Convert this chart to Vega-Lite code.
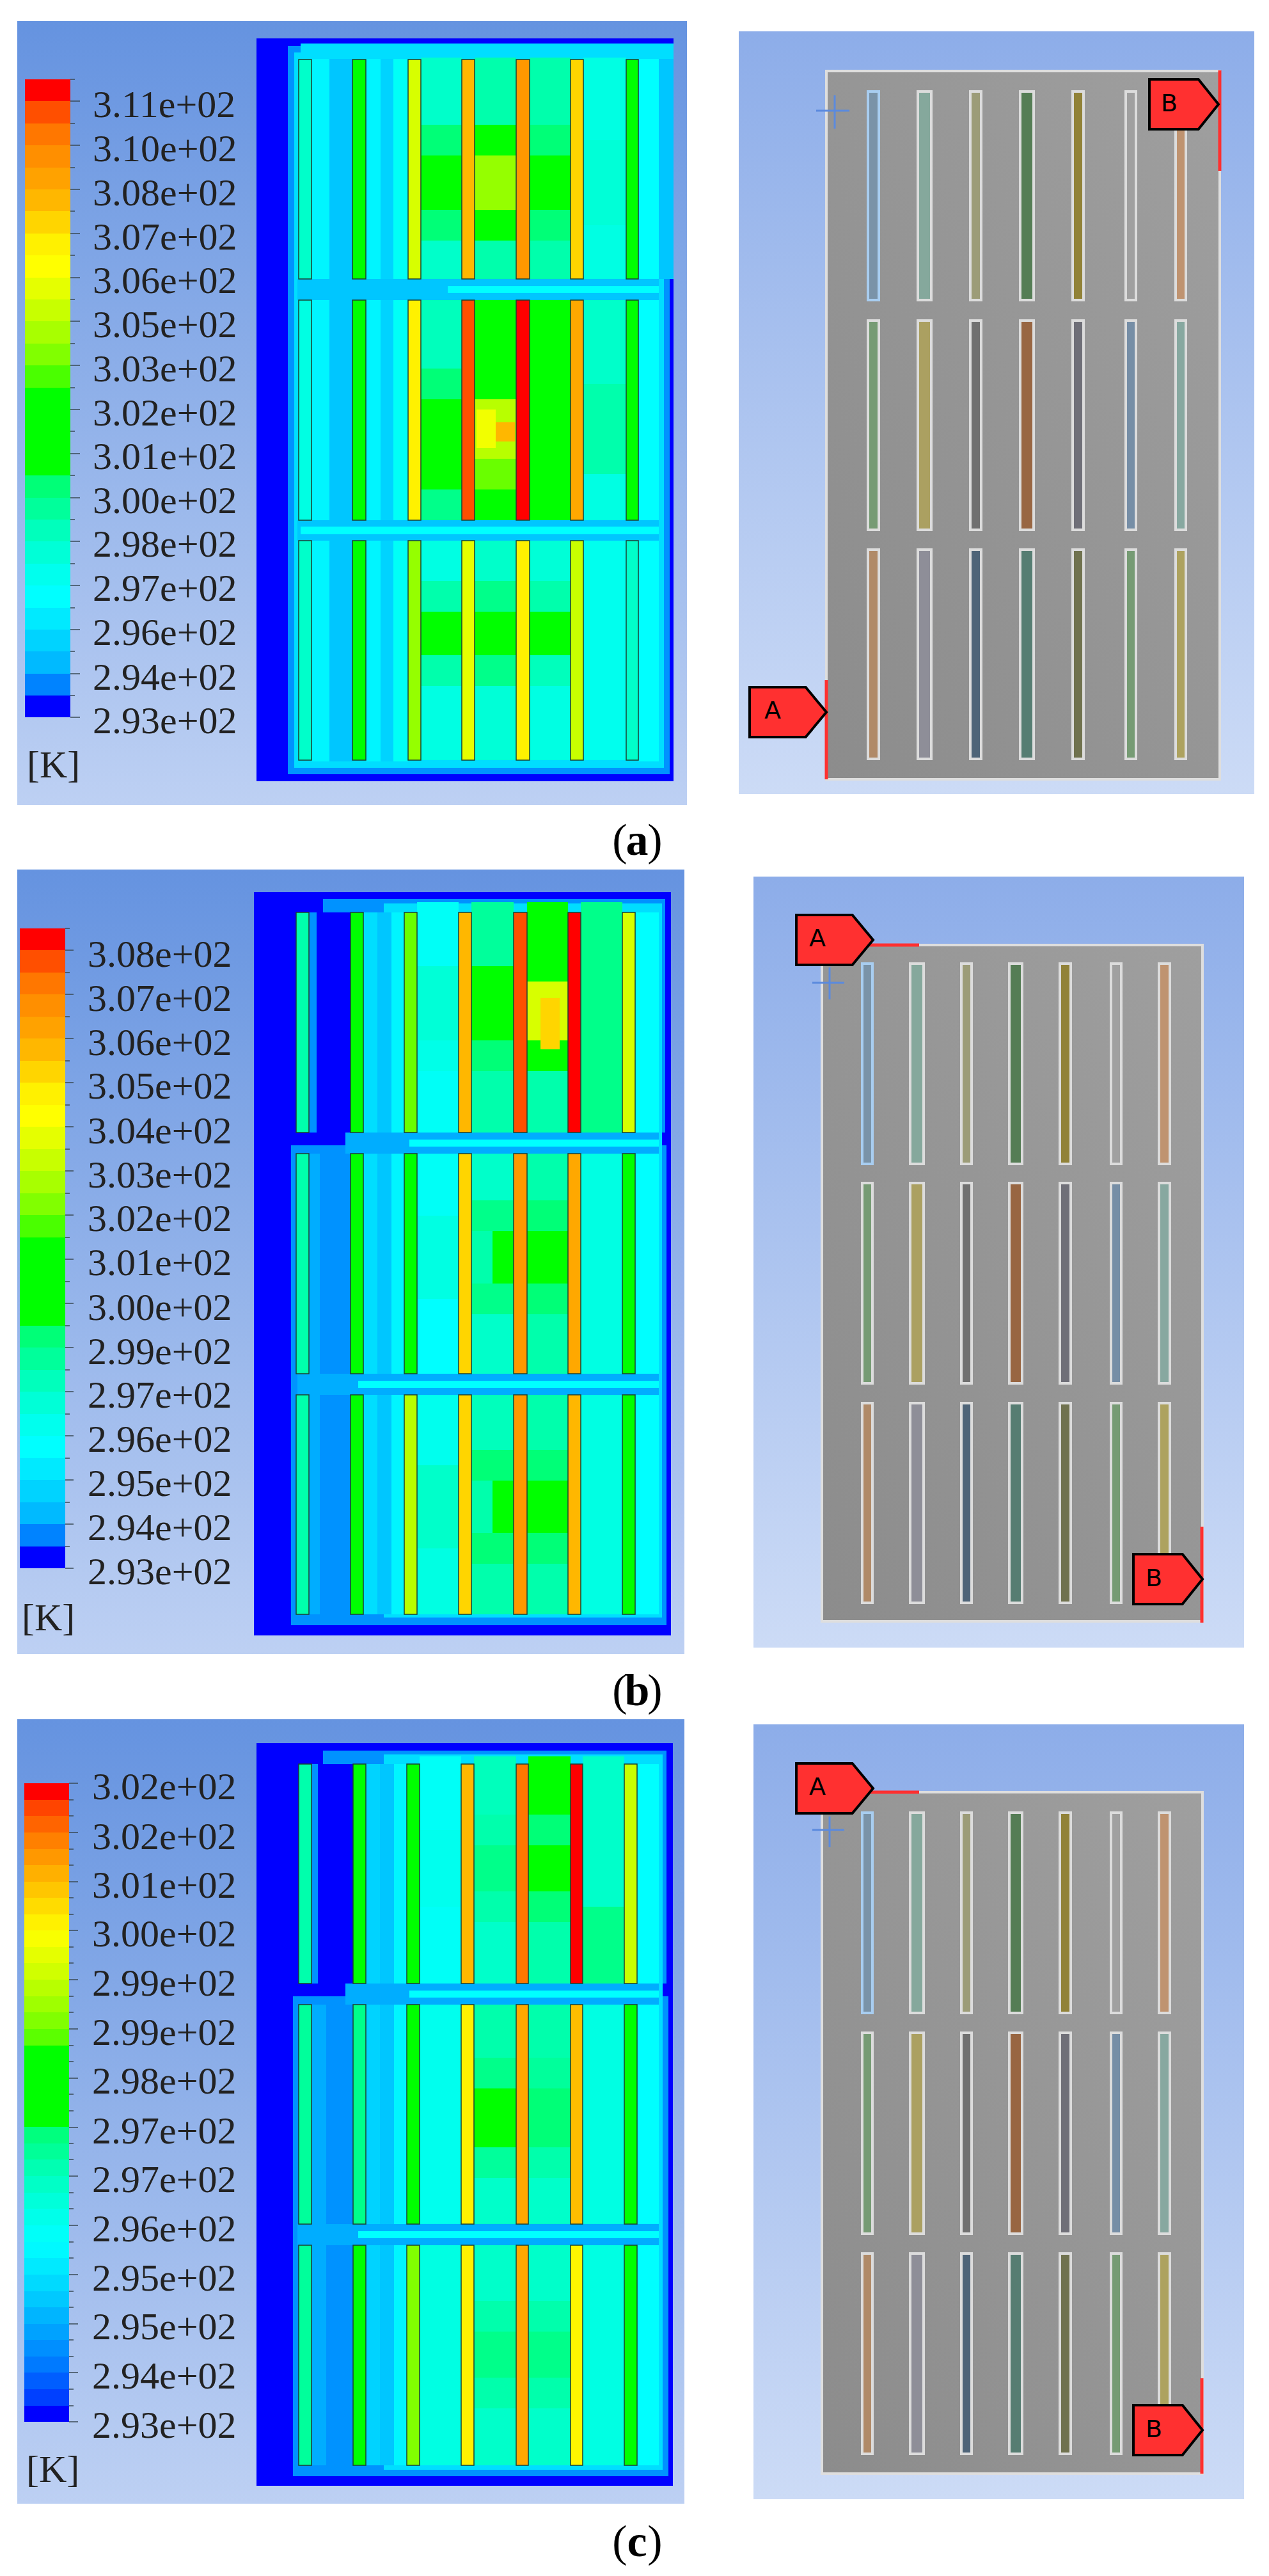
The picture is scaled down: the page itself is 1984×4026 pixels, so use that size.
{"$schema":"https://vega.github.io/schema/vega-lite/v6.json","width":1984,"height":4026,"padding":0,"autosize":{"type":"none"},"background":"#ffffff","config":{"view":{"stroke":null}},
"datasets":{
"bgL":[{"x":27,"x2":1074,"y":33,"y2":1258},{"x":27,"x2":1070,"y":1359,"y2":2585},{"x":27,"x2":1070,"y":2687,"y2":3913}],
"bgR":[{"x":1155,"x2":1961,"y":49,"y2":1241},{"x":1178,"x2":1945,"y":1370,"y2":2575},{"x":1178,"x2":1945,"y":2695,"y2":3906}],
"gray":[{"x":1292,"x2":1907,"y":111,"y2":1218},{"x":1285,"x2":1880,"y":1477,"y2":2534},{"x":1285,"x2":1880,"y":2801,"y2":3866}],
"cells":[
{"x":401,"x2":1053,"y":60,"y2":1221,"t":0},{"x":450,"x2":1047,"y":72,"y2":1210,"t":3},{"x":460,"x2":1038,"y":82,"y2":1200,"t":6},{"x":470,"x2":1053,"y":68,"y2":92,"t":6},{"x":1030,"x2":1053,"y":92,"y2":436,"t":5},
{"x":487,"x2":515,"y":92,"y2":1190,"t":7},{"x":515,"x2":551,"y":92,"y2":1190,"t":5},{"x":572,"x2":595,"y":92,"y2":1190,"t":7},{"x":595,"x2":615,"y":92,"y2":1190,"t":5.5},{"x":615,"x2":638,"y":92,"y2":1190,"t":8},{"x":998,"x2":1030,"y":92,"y2":1190,"t":7.5},
{"x":658,"x2":722,"y":90,"y2":219,"t":10},{"x":658,"x2":722,"y":219,"y2":352,"t":15},{"x":658,"x2":722,"y":352,"y2":436,"t":10},{"x":742,"x2":807,"y":90,"y2":219,"t":11},{"x":742,"x2":807,"y":219,"y2":352,"t":18},{"x":742,"x2":807,"y":352,"y2":436,"t":11},{"x":828,"x2":892,"y":90,"y2":219,"t":11},{"x":828,"x2":892,"y":219,"y2":352,"t":15},{"x":828,"x2":892,"y":352,"y2":436,"t":11},{"x":912,"x2":979,"y":90,"y2":219,"t":9},{"x":912,"x2":979,"y":219,"y2":352,"t":9.5},{"x":912,"x2":979,"y":352,"y2":436,"t":9},
{"x":658,"x2":722,"y":469,"y2":600,"t":10.5},{"x":658,"x2":722,"y":600,"y2":741,"t":16},{"x":658,"x2":722,"y":741,"y2":813,"t":12},{"x":742,"x2":807,"y":469,"y2":600,"t":15},{"x":742,"x2":807,"y":600,"y2":741,"t":19},{"x":742,"x2":807,"y":741,"y2":813,"t":15},{"x":828,"x2":892,"y":469,"y2":813,"t":15},{"x":912,"x2":979,"y":469,"y2":600,"t":10},{"x":912,"x2":979,"y":600,"y2":741,"t":11},{"x":912,"x2":979,"y":741,"y2":813,"t":9},
{"x":658,"x2":722,"y":845,"y2":932,"t":9},{"x":658,"x2":722,"y":932,"y2":1048,"t":14},{"x":658,"x2":722,"y":1048,"y2":1188,"t":9},{"x":742,"x2":807,"y":845,"y2":932,"t":10},{"x":742,"x2":807,"y":932,"y2":1048,"t":15},{"x":742,"x2":807,"y":1048,"y2":1188,"t":9.5},{"x":828,"x2":892,"y":845,"y2":932,"t":9.5},{"x":828,"x2":892,"y":932,"y2":1048,"t":13},{"x":828,"x2":892,"y":1048,"y2":1188,"t":9},{"x":912,"x2":979,"y":845,"y2":1188,"t":8.5},
{"x":465,"x2":1030,"y":436,"y2":469,"t":5},{"x":700,"x2":1030,"y":447,"y2":458,"t":7.5},{"x":465,"x2":1030,"y":813,"y2":845,"t":5},{"x":470,"x2":1030,"y":823,"y2":835,"t":7.5},
{"x":745,"x2":775,"y":640,"y2":700,"t":21},{"x":775,"x2":805,"y":660,"y2":690,"t":24},
{"x":658,"x2":722,"y":195,"y2":243,"t":12.5},{"x":742,"x2":807,"y":195,"y2":243,"t":13.5},{"x":828,"x2":892,"y":195,"y2":243,"t":12.5},{"x":658,"x2":722,"y":328,"y2":376,"t":12.5},{"x":742,"x2":807,"y":328,"y2":376,"t":14},{"x":828,"x2":892,"y":328,"y2":376,"t":12.5},
{"x":658,"x2":722,"y":576,"y2":624,"t":12.5},{"x":742,"x2":807,"y":576,"y2":624,"t":16},{"x":658,"x2":722,"y":717,"y2":765,"t":13.5},{"x":742,"x2":807,"y":717,"y2":765,"t":17},
{"x":658,"x2":722,"y":908,"y2":956,"t":11},{"x":742,"x2":807,"y":908,"y2":956,"t":12},{"x":828,"x2":892,"y":908,"y2":956,"t":11},{"x":658,"x2":722,"y":1024,"y2":1072,"t":11},{"x":742,"x2":807,"y":1024,"y2":1072,"t":12},{"x":828,"x2":892,"y":1024,"y2":1072,"t":10.5},
{"x":397,"x2":1049,"y":1394,"y2":2556,"t":0},{"x":505,"x2":1040,"y":1405,"y2":1770,"t":3},{"x":455,"x2":1042,"y":1790,"y2":2540,"t":3},{"x":600,"x2":1035,"y":1412,"y2":2528,"t":6},
{"x":483,"x2":495,"y":1426,"y2":1770,"t":3},{"x":483,"x2":500,"y":1803,"y2":2523,"t":4},{"x":500,"x2":548,"y":1803,"y2":2523,"t":3},{"x":500,"x2":548,"y":1426,"y2":1770,"t":0},{"x":568,"x2":590,"y":1426,"y2":2523,"t":6},{"x":590,"x2":612,"y":1426,"y2":2523,"t":5},{"x":612,"x2":632,"y":1426,"y2":2523,"t":7},{"x":993,"x2":1030,"y":1426,"y2":2523,"t":7.5},
{"x":652,"x2":717,"y":1410,"y2":1510,"t":8},{"x":652,"x2":717,"y":1510,"y2":1650,"t":9.5},{"x":652,"x2":717,"y":1650,"y2":1770,"t":8},{"x":737,"x2":803,"y":1410,"y2":1510,"t":11.5},{"x":737,"x2":803,"y":1510,"y2":1650,"t":15},{"x":737,"x2":803,"y":1650,"y2":1770,"t":11},{"x":824,"x2":888,"y":1410,"y2":1510,"t":14},{"x":824,"x2":888,"y":1510,"y2":1650,"t":20},{"x":824,"x2":888,"y":1650,"y2":1770,"t":11},{"x":908,"x2":973,"y":1410,"y2":1770,"t":12},
{"x":652,"x2":717,"y":1803,"y2":1900,"t":8},{"x":652,"x2":717,"y":1900,"y2":2030,"t":9},{"x":652,"x2":717,"y":2030,"y2":2147,"t":7.5},{"x":737,"x2":803,"y":1803,"y2":1900,"t":10},{"x":737,"x2":803,"y":1900,"y2":2030,"t":14},{"x":737,"x2":803,"y":2030,"y2":2147,"t":10},{"x":824,"x2":888,"y":1803,"y2":1900,"t":11},{"x":824,"x2":888,"y":1900,"y2":2030,"t":15},{"x":824,"x2":888,"y":2030,"y2":2147,"t":11},{"x":908,"x2":973,"y":1803,"y2":2147,"t":9},
{"x":652,"x2":717,"y":2180,"y2":2290,"t":8.5},{"x":652,"x2":717,"y":2290,"y2":2420,"t":10},{"x":652,"x2":717,"y":2420,"y2":2523,"t":9},{"x":737,"x2":803,"y":2180,"y2":2290,"t":10.5},{"x":737,"x2":803,"y":2290,"y2":2420,"t":15},{"x":737,"x2":803,"y":2420,"y2":2523,"t":11},{"x":824,"x2":888,"y":2180,"y2":2290,"t":11},{"x":824,"x2":888,"y":2290,"y2":2420,"t":15},{"x":824,"x2":888,"y":2420,"y2":2523,"t":11},{"x":908,"x2":973,"y":2180,"y2":2523,"t":9},
{"x":540,"x2":1030,"y":1770,"y2":1803,"t":4},{"x":640,"x2":1030,"y":1781,"y2":1792,"t":7.5},{"x":465,"x2":1030,"y":2147,"y2":2180,"t":4},{"x":560,"x2":1030,"y":2158,"y2":2169,"t":7.5},
{"x":824,"x2":888,"y":1486,"y2":1534,"t":16},{"x":652,"x2":717,"y":1626,"y2":1674,"t":8.8},{"x":737,"x2":803,"y":1626,"y2":1674,"t":12.5},{"x":824,"x2":888,"y":1626,"y2":1674,"t":15},{"x":845,"x2":875,"y":1560,"y2":1640,"t":23},
{"x":737,"x2":770,"y":1900,"y2":2030,"t":11},{"x":737,"x2":803,"y":1876,"y2":1924,"t":12},{"x":824,"x2":888,"y":1876,"y2":1924,"t":12.5},{"x":737,"x2":803,"y":2006,"y2":2054,"t":12},{"x":824,"x2":888,"y":2006,"y2":2054,"t":12.5},
{"x":737,"x2":770,"y":2290,"y2":2420,"t":11},{"x":737,"x2":803,"y":2266,"y2":2314,"t":12.5},{"x":824,"x2":888,"y":2266,"y2":2314,"t":12.5},{"x":737,"x2":803,"y":2396,"y2":2444,"t":12.5},{"x":824,"x2":888,"y":2396,"y2":2444,"t":12.5},
{"x":401,"x2":1052,"y":2724,"y2":3885,"t":0},{"x":505,"x2":1042,"y":2736,"y2":3100,"t":3},{"x":458,"x2":1045,"y":3120,"y2":3870,"t":3},{"x":600,"x2":1036,"y":2742,"y2":3860,"t":6},
{"x":487,"x2":497,"y":2757,"y2":3100,"t":3},{"x":487,"x2":510,"y":3133,"y2":3853,"t":4},{"x":510,"x2":552,"y":3133,"y2":3853,"t":3},{"x":497,"x2":552,"y":2757,"y2":3100,"t":0},{"x":572,"x2":594,"y":2757,"y2":3853,"t":5.5},{"x":594,"x2":616,"y":2757,"y2":3853,"t":5},{"x":616,"x2":636,"y":2757,"y2":3853,"t":7},{"x":996,"x2":1030,"y":2757,"y2":3853,"t":7.5},
{"x":656,"x2":721,"y":2745,"y2":2860,"t":8},{"x":656,"x2":721,"y":2860,"y2":2980,"t":8.5},{"x":656,"x2":721,"y":2980,"y2":3100,"t":8},{"x":741,"x2":807,"y":2745,"y2":2860,"t":10.5},{"x":741,"x2":807,"y":2860,"y2":2980,"t":12},{"x":741,"x2":807,"y":2980,"y2":3100,"t":10},{"x":826,"x2":892,"y":2745,"y2":2860,"t":14},{"x":826,"x2":892,"y":2860,"y2":2980,"t":15},{"x":826,"x2":892,"y":2980,"y2":3100,"t":11},{"x":911,"x2":976,"y":2745,"y2":2980,"t":10},{"x":911,"x2":976,"y":2980,"y2":3100,"t":12},
{"x":656,"x2":721,"y":3133,"y2":3476,"t":8.5},{"x":741,"x2":807,"y":3133,"y2":3240,"t":11},{"x":741,"x2":807,"y":3240,"y2":3380,"t":13},{"x":741,"x2":807,"y":3380,"y2":3476,"t":10},{"x":826,"x2":892,"y":3133,"y2":3240,"t":11},{"x":826,"x2":892,"y":3240,"y2":3380,"t":12.5},{"x":826,"x2":892,"y":3380,"y2":3476,"t":10},{"x":911,"x2":976,"y":3133,"y2":3476,"t":9},
{"x":656,"x2":721,"y":3509,"y2":3853,"t":9},{"x":741,"x2":807,"y":3509,"y2":3620,"t":10},{"x":741,"x2":807,"y":3620,"y2":3740,"t":12},{"x":741,"x2":807,"y":3740,"y2":3853,"t":10},{"x":826,"x2":892,"y":3509,"y2":3620,"t":10},{"x":826,"x2":892,"y":3620,"y2":3740,"t":12},{"x":826,"x2":892,"y":3740,"y2":3853,"t":10},{"x":911,"x2":976,"y":3509,"y2":3853,"t":9},
{"x":540,"x2":1030,"y":3100,"y2":3133,"t":4},{"x":640,"x2":1030,"y":3111,"y2":3122,"t":7.5},{"x":465,"x2":1030,"y":3476,"y2":3509,"t":4},{"x":560,"x2":1030,"y":3487,"y2":3498,"t":7.5},
{"x":741,"x2":807,"y":2836,"y2":2884,"t":11},{"x":826,"x2":892,"y":2836,"y2":2884,"t":12.5},{"x":741,"x2":807,"y":2956,"y2":3004,"t":11},{"x":826,"x2":892,"y":2956,"y2":3004,"t":12.5},
{"x":741,"x2":807,"y":3216,"y2":3264,"t":12},{"x":826,"x2":892,"y":3216,"y2":3264,"t":11.5},{"x":741,"x2":807,"y":3356,"y2":3404,"t":11.5},{"x":826,"x2":892,"y":3356,"y2":3404,"t":11},
{"x":741,"x2":807,"y":3596,"y2":3644,"t":11},{"x":826,"x2":892,"y":3596,"y2":3644,"t":11},{"x":741,"x2":807,"y":3716,"y2":3764,"t":11},{"x":826,"x2":892,"y":3716,"y2":3764,"t":11},
{"x":39,"x2":110,"y":124,"y2":158,"t":28},{"x":39,"x2":110,"y":158,"y2":193,"t":27},{"x":39,"x2":110,"y":193,"y2":227,"t":26},{"x":39,"x2":110,"y":227,"y2":262,"t":25.3},{"x":39,"x2":110,"y":262,"y2":296,"t":24.7},{"x":39,"x2":110,"y":296,"y2":330,"t":24},{"x":39,"x2":110,"y":330,"y2":365,"t":23},{"x":39,"x2":110,"y":365,"y2":399,"t":22},{"x":39,"x2":110,"y":399,"y2":434,"t":21.5},{"x":39,"x2":110,"y":434,"y2":468,"t":20.5},{"x":39,"x2":110,"y":468,"y2":502,"t":19.5},{"x":39,"x2":110,"y":502,"y2":537,"t":18.5},{"x":39,"x2":110,"y":537,"y2":571,"t":17.5},{"x":39,"x2":110,"y":571,"y2":606,"t":16.5},{"x":39,"x2":110,"y":606,"y2":640,"t":15},{"x":39,"x2":110,"y":640,"y2":674,"t":15},{"x":39,"x2":110,"y":674,"y2":709,"t":14},{"x":39,"x2":110,"y":709,"y2":743,"t":14},{"x":39,"x2":110,"y":743,"y2":778,"t":12.5},{"x":39,"x2":110,"y":778,"y2":812,"t":11.5},{"x":39,"x2":110,"y":812,"y2":846,"t":10.5},{"x":39,"x2":110,"y":846,"y2":881,"t":9.5},{"x":39,"x2":110,"y":881,"y2":915,"t":8.5},{"x":39,"x2":110,"y":915,"y2":950,"t":7.5},{"x":39,"x2":110,"y":950,"y2":984,"t":6.5},{"x":39,"x2":110,"y":984,"y2":1018,"t":5.5},{"x":39,"x2":110,"y":1018,"y2":1053,"t":4.5},{"x":39,"x2":110,"y":1053,"y2":1087,"t":2.5},{"x":39,"x2":110,"y":1087,"y2":1121,"t":0},
{"x":31,"x2":102,"y":1451,"y2":1485,"t":28},{"x":31,"x2":102,"y":1485,"y2":1520,"t":27},{"x":31,"x2":102,"y":1520,"y2":1554,"t":26},{"x":31,"x2":102,"y":1554,"y2":1589,"t":25.3},{"x":31,"x2":102,"y":1589,"y2":1623,"t":24.7},{"x":31,"x2":102,"y":1623,"y2":1658,"t":24},{"x":31,"x2":102,"y":1658,"y2":1692,"t":23},{"x":31,"x2":102,"y":1692,"y2":1727,"t":22},{"x":31,"x2":102,"y":1727,"y2":1761,"t":21.5},{"x":31,"x2":102,"y":1761,"y2":1796,"t":20.5},{"x":31,"x2":102,"y":1796,"y2":1830,"t":19.5},{"x":31,"x2":102,"y":1830,"y2":1865,"t":18.5},{"x":31,"x2":102,"y":1865,"y2":1899,"t":17.5},{"x":31,"x2":102,"y":1899,"y2":1934,"t":16.5},{"x":31,"x2":102,"y":1934,"y2":1968,"t":15},{"x":31,"x2":102,"y":1968,"y2":2003,"t":15},{"x":31,"x2":102,"y":2003,"y2":2037,"t":14},{"x":31,"x2":102,"y":2037,"y2":2072,"t":14},{"x":31,"x2":102,"y":2072,"y2":2106,"t":12.5},{"x":31,"x2":102,"y":2106,"y2":2141,"t":11.5},{"x":31,"x2":102,"y":2141,"y2":2175,"t":10.5},{"x":31,"x2":102,"y":2175,"y2":2210,"t":9.5},{"x":31,"x2":102,"y":2210,"y2":2244,"t":8.5},{"x":31,"x2":102,"y":2244,"y2":2279,"t":7.5},{"x":31,"x2":102,"y":2279,"y2":2313,"t":6.5},{"x":31,"x2":102,"y":2313,"y2":2348,"t":5.5},{"x":31,"x2":102,"y":2348,"y2":2382,"t":4.5},{"x":31,"x2":102,"y":2382,"y2":2417,"t":2.5},{"x":31,"x2":102,"y":2417,"y2":2451,"t":0},
{"x":38,"x2":108,"y":2787,"y2":2813,"t":28},{"x":38,"x2":108,"y":2813,"y2":2838,"t":27.25},{"x":38,"x2":108,"y":2838,"y2":2864,"t":26.5},{"x":38,"x2":108,"y":2864,"y2":2890,"t":25.75},{"x":38,"x2":108,"y":2890,"y2":2915,"t":25},{"x":38,"x2":108,"y":2915,"y2":2941,"t":24.25},{"x":38,"x2":108,"y":2941,"y2":2966,"t":23.5},{"x":38,"x2":108,"y":2966,"y2":2992,"t":22.75},{"x":38,"x2":108,"y":2992,"y2":3017,"t":22},{"x":38,"x2":108,"y":3017,"y2":3043,"t":21.25},{"x":38,"x2":108,"y":3043,"y2":3068,"t":20.5},{"x":38,"x2":108,"y":3068,"y2":3094,"t":19.75},{"x":38,"x2":108,"y":3094,"y2":3120,"t":19},{"x":38,"x2":108,"y":3120,"y2":3145,"t":18.25},{"x":38,"x2":108,"y":3145,"y2":3171,"t":17.5},{"x":38,"x2":108,"y":3171,"y2":3197,"t":16.75},{"x":38,"x2":108,"y":3197,"y2":3324,"t":14},{"x":38,"x2":108,"y":3324,"y2":3350,"t":12.3},{"x":38,"x2":108,"y":3350,"y2":3375,"t":11.6},{"x":38,"x2":108,"y":3375,"y2":3401,"t":10.8},{"x":38,"x2":108,"y":3401,"y2":3427,"t":10.1},{"x":38,"x2":108,"y":3427,"y2":3452,"t":9.4},{"x":38,"x2":108,"y":3452,"y2":3478,"t":8.7},{"x":38,"x2":108,"y":3478,"y2":3504,"t":7.9},{"x":38,"x2":108,"y":3504,"y2":3529,"t":7.2},{"x":38,"x2":108,"y":3529,"y2":3555,"t":6.5},{"x":38,"x2":108,"y":3555,"y2":3581,"t":5.8},{"x":38,"x2":108,"y":3581,"y2":3606,"t":5.1},{"x":38,"x2":108,"y":3606,"y2":3632,"t":4.3},{"x":38,"x2":108,"y":3632,"y2":3657,"t":3.6},{"x":38,"x2":108,"y":3657,"y2":3683,"t":2.9},{"x":38,"x2":108,"y":3683,"y2":3708,"t":2.2},{"x":38,"x2":108,"y":3708,"y2":3734,"t":1.4},{"x":38,"x2":108,"y":3734,"y2":3760,"t":0.7},{"x":38,"x2":108,"y":3760,"y2":3785,"t":0}
],
"sources":[
{"x":467,"x2":487,"y":93,"y2":436,"t":10},{"x":551,"x2":572,"y":93,"y2":436,"t":15},{"x":638,"x2":658,"y":93,"y2":436,"t":20},{"x":722,"x2":742,"y":93,"y2":436,"t":24},{"x":807,"x2":828,"y":93,"y2":436,"t":25},{"x":892,"x2":912,"y":93,"y2":436,"t":23},{"x":979,"x2":998,"y":93,"y2":436,"t":15},
{"x":467,"x2":487,"y":469,"y2":813,"t":9},{"x":551,"x2":572,"y":469,"y2":813,"t":15},{"x":638,"x2":658,"y":469,"y2":813,"t":22},{"x":722,"x2":742,"y":469,"y2":813,"t":27},{"x":807,"x2":828,"y":469,"y2":813,"t":28},{"x":892,"x2":912,"y":469,"y2":813,"t":24.5},{"x":979,"x2":998,"y":469,"y2":813,"t":15},
{"x":467,"x2":487,"y":845,"y2":1188,"t":10},{"x":551,"x2":572,"y":845,"y2":1188,"t":15},{"x":638,"x2":658,"y":845,"y2":1188,"t":18},{"x":722,"x2":742,"y":845,"y2":1188,"t":20.5},{"x":807,"x2":828,"y":845,"y2":1188,"t":22},{"x":892,"x2":912,"y":845,"y2":1188,"t":19.5},{"x":979,"x2":998,"y":845,"y2":1188,"t":10},
{"x":463,"x2":483,"y":1426,"y2":1770,"t":11},{"x":548,"x2":568,"y":1426,"y2":1770,"t":15},{"x":632,"x2":652,"y":1426,"y2":1770,"t":17},{"x":717,"x2":737,"y":1426,"y2":1770,"t":24},{"x":803,"x2":824,"y":1426,"y2":1770,"t":27},{"x":888,"x2":908,"y":1426,"y2":1770,"t":28},{"x":973,"x2":993,"y":1426,"y2":1770,"t":20},
{"x":463,"x2":483,"y":1803,"y2":2147,"t":11},{"x":548,"x2":568,"y":1803,"y2":2147,"t":14},{"x":632,"x2":652,"y":1803,"y2":2147,"t":15},{"x":717,"x2":737,"y":1803,"y2":2147,"t":23},{"x":803,"x2":824,"y":1803,"y2":2147,"t":25},{"x":888,"x2":908,"y":1803,"y2":2147,"t":24.5},{"x":973,"x2":993,"y":1803,"y2":2147,"t":15},
{"x":463,"x2":483,"y":2180,"y2":2523,"t":11},{"x":548,"x2":568,"y":2180,"y2":2523,"t":14},{"x":632,"x2":652,"y":2180,"y2":2523,"t":19},{"x":717,"x2":737,"y":2180,"y2":2523,"t":23},{"x":803,"x2":824,"y":2180,"y2":2523,"t":25},{"x":888,"x2":908,"y":2180,"y2":2523,"t":24},{"x":973,"x2":993,"y":2180,"y2":2523,"t":15},
{"x":467,"x2":487,"y":2757,"y2":3100,"t":11},{"x":552,"x2":572,"y":2757,"y2":3100,"t":15},{"x":636,"x2":656,"y":2757,"y2":3100,"t":16},{"x":721,"x2":741,"y":2757,"y2":3100,"t":24},{"x":807,"x2":826,"y":2757,"y2":3100,"t":26},{"x":892,"x2":911,"y":2757,"y2":3100,"t":28},{"x":976,"x2":996,"y":2757,"y2":3100,"t":19.5},
{"x":467,"x2":487,"y":3133,"y2":3476,"t":11.5},{"x":552,"x2":572,"y":3133,"y2":3476,"t":12},{"x":636,"x2":656,"y":3133,"y2":3476,"t":15},{"x":721,"x2":741,"y":3133,"y2":3476,"t":22},{"x":807,"x2":826,"y":3133,"y2":3476,"t":24.5},{"x":892,"x2":911,"y":3133,"y2":3476,"t":23.8},{"x":976,"x2":996,"y":3133,"y2":3476,"t":15},
{"x":467,"x2":487,"y":3509,"y2":3853,"t":11.5},{"x":552,"x2":572,"y":3509,"y2":3853,"t":15},{"x":636,"x2":656,"y":3509,"y2":3853,"t":17.5},{"x":721,"x2":741,"y":3509,"y2":3853,"t":22},{"x":807,"x2":826,"y":3509,"y2":3853,"t":24.5},{"x":892,"x2":911,"y":3509,"y2":3853,"t":21.8},{"x":976,"x2":996,"y":3509,"y2":3853,"t":15}
],
"bodies":[
{"x":1357,"x2":1374,"y":143,"y2":469,"s":"r1c1"},{"x":1435,"x2":1456,"y":143,"y2":469,"s":"r1c2"},{"x":1517,"x2":1534,"y":143,"y2":469,"s":"r1c3"},{"x":1595,"x2":1616,"y":143,"y2":469,"s":"r1c4"},{"x":1677,"x2":1694,"y":143,"y2":469,"s":"r1c5"},{"x":1760,"x2":1776,"y":143,"y2":469,"s":"r1c6"},{"x":1838,"x2":1854,"y":143,"y2":469,"s":"r1c7"},
{"x":1357,"x2":1374,"y":501,"y2":828,"s":"r2c1"},{"x":1435,"x2":1456,"y":501,"y2":828,"s":"r2c2"},{"x":1517,"x2":1534,"y":501,"y2":828,"s":"r2c3"},{"x":1595,"x2":1616,"y":501,"y2":828,"s":"r2c4"},{"x":1677,"x2":1694,"y":501,"y2":828,"s":"r2c5"},{"x":1760,"x2":1776,"y":501,"y2":828,"s":"r2c6"},{"x":1838,"x2":1854,"y":501,"y2":828,"s":"r2c7"},
{"x":1357,"x2":1374,"y":859,"y2":1186,"s":"r3c1"},{"x":1435,"x2":1456,"y":859,"y2":1186,"s":"r3c2"},{"x":1517,"x2":1534,"y":859,"y2":1186,"s":"r3c3"},{"x":1595,"x2":1616,"y":859,"y2":1186,"s":"r3c4"},{"x":1677,"x2":1694,"y":859,"y2":1186,"s":"r3c5"},{"x":1760,"x2":1776,"y":859,"y2":1186,"s":"r3c6"},{"x":1838,"x2":1854,"y":859,"y2":1186,"s":"r3c7"},
{"x":1348,"x2":1364,"y":1506,"y2":1819,"s":"r1c1"},{"x":1423,"x2":1444,"y":1506,"y2":1819,"s":"r1c2"},{"x":1503,"x2":1519,"y":1506,"y2":1819,"s":"r1c3"},{"x":1578,"x2":1598,"y":1506,"y2":1819,"s":"r1c4"},{"x":1657,"x2":1674,"y":1506,"y2":1819,"s":"r1c5"},{"x":1737,"x2":1753,"y":1506,"y2":1819,"s":"r1c6"},{"x":1812,"x2":1829,"y":1506,"y2":1819,"s":"r1c7"},
{"x":1348,"x2":1364,"y":1849,"y2":2162,"s":"r2c1"},{"x":1423,"x2":1444,"y":1849,"y2":2162,"s":"r2c2"},{"x":1503,"x2":1519,"y":1849,"y2":2162,"s":"r2c3"},{"x":1578,"x2":1598,"y":1849,"y2":2162,"s":"r2c4"},{"x":1657,"x2":1674,"y":1849,"y2":2162,"s":"r2c5"},{"x":1737,"x2":1753,"y":1849,"y2":2162,"s":"r2c6"},{"x":1812,"x2":1829,"y":1849,"y2":2162,"s":"r2c7"},
{"x":1348,"x2":1364,"y":2193,"y2":2505,"s":"r3c1"},{"x":1423,"x2":1444,"y":2193,"y2":2505,"s":"r3c2"},{"x":1503,"x2":1519,"y":2193,"y2":2505,"s":"r3c3"},{"x":1578,"x2":1598,"y":2193,"y2":2505,"s":"r3c4"},{"x":1657,"x2":1674,"y":2193,"y2":2505,"s":"r3c5"},{"x":1737,"x2":1753,"y":2193,"y2":2505,"s":"r3c6"},{"x":1812,"x2":1829,"y":2193,"y2":2505,"s":"r3c7"},
{"x":1348,"x2":1364,"y":2833,"y2":3146,"s":"r1c1"},{"x":1423,"x2":1444,"y":2833,"y2":3146,"s":"r1c2"},{"x":1503,"x2":1519,"y":2833,"y2":3146,"s":"r1c3"},{"x":1578,"x2":1598,"y":2833,"y2":3146,"s":"r1c4"},{"x":1657,"x2":1674,"y":2833,"y2":3146,"s":"r1c5"},{"x":1737,"x2":1753,"y":2833,"y2":3146,"s":"r1c6"},{"x":1812,"x2":1829,"y":2833,"y2":3146,"s":"r1c7"},
{"x":1348,"x2":1364,"y":3177,"y2":3491,"s":"r2c1"},{"x":1423,"x2":1444,"y":3177,"y2":3491,"s":"r2c2"},{"x":1503,"x2":1519,"y":3177,"y2":3491,"s":"r2c3"},{"x":1578,"x2":1598,"y":3177,"y2":3491,"s":"r2c4"},{"x":1657,"x2":1674,"y":3177,"y2":3491,"s":"r2c5"},{"x":1737,"x2":1753,"y":3177,"y2":3491,"s":"r2c6"},{"x":1812,"x2":1829,"y":3177,"y2":3491,"s":"r2c7"},
{"x":1348,"x2":1364,"y":3522,"y2":3835,"s":"r3c1"},{"x":1423,"x2":1444,"y":3522,"y2":3835,"s":"r3c2"},{"x":1503,"x2":1519,"y":3522,"y2":3835,"s":"r3c3"},{"x":1578,"x2":1598,"y":3522,"y2":3835,"s":"r3c4"},{"x":1657,"x2":1674,"y":3522,"y2":3835,"s":"r3c5"},{"x":1737,"x2":1753,"y":3522,"y2":3835,"s":"r3c6"},{"x":1812,"x2":1829,"y":3522,"y2":3835,"s":"r3c7"}
],
"firsts":[{"x":1357,"x2":1374,"y":143,"y2":469},{"x":1348,"x2":1364,"y":1506,"y2":1819},{"x":1348,"x2":1364,"y":2833,"y2":3146}],
"redLines":[{"x":1292,"x2":1292,"y":1063,"y2":1218},{"x":1907,"x2":1907,"y":110,"y2":267},{"x":1358,"x2":1437,"y":1477,"y2":1477},{"x":1879,"x2":1879,"y":2386,"y2":2536},{"x":1358,"x2":1437,"y":2801,"y2":2801},{"x":1879,"x2":1879,"y":3717,"y2":3866}],
"crosses":[{"x":1276,"x2":1328,"y":173,"y2":173},{"x":1305,"x2":1305,"y":149,"y2":201},{"x":1270,"x2":1320,"y":1536,"y2":1536},{"x":1297,"x2":1297,"y":1512,"y2":1562},{"x":1270,"x2":1320,"y":2860,"y2":2860},{"x":1297,"x2":1297,"y":2839,"y2":2887}],
"majors":[{"x":110,"x2":125,"y":158},{"x":110,"x2":125,"y":227},{"x":110,"x2":125,"y":296},{"x":110,"x2":125,"y":365},{"x":110,"x2":125,"y":434},{"x":110,"x2":125,"y":502},{"x":110,"x2":125,"y":571},{"x":110,"x2":125,"y":640},{"x":110,"x2":125,"y":709},{"x":110,"x2":125,"y":778},{"x":110,"x2":125,"y":846},{"x":110,"x2":125,"y":915},{"x":110,"x2":125,"y":984},{"x":110,"x2":125,"y":1053},{"x":110,"x2":125,"y":1121},
{"x":102,"x2":115,"y":1485},{"x":102,"x2":115,"y":1554},{"x":102,"x2":115,"y":1623},{"x":102,"x2":115,"y":1692},{"x":102,"x2":115,"y":1761},{"x":102,"x2":115,"y":1830},{"x":102,"x2":115,"y":1899},{"x":102,"x2":115,"y":1968},{"x":102,"x2":115,"y":2037},{"x":102,"x2":115,"y":2106},{"x":102,"x2":115,"y":2175},{"x":102,"x2":115,"y":2244},{"x":102,"x2":115,"y":2313},{"x":102,"x2":115,"y":2382},{"x":102,"x2":115,"y":2451},
{"x":108,"x2":122,"y":2787},{"x":108,"x2":122,"y":2864},{"x":108,"x2":122,"y":2941},{"x":108,"x2":122,"y":3017},{"x":108,"x2":122,"y":3094},{"x":108,"x2":122,"y":3171},{"x":108,"x2":122,"y":3248},{"x":108,"x2":122,"y":3325},{"x":108,"x2":122,"y":3401},{"x":108,"x2":122,"y":3478},{"x":108,"x2":122,"y":3555},{"x":108,"x2":122,"y":3632},{"x":108,"x2":122,"y":3708},{"x":108,"x2":122,"y":3785}],
"minors":[{"x":110,"x2":117,"y":124},{"x":110,"x2":117,"y":193},{"x":110,"x2":117,"y":262},{"x":110,"x2":117,"y":330},{"x":110,"x2":117,"y":399},{"x":110,"x2":117,"y":468},{"x":110,"x2":117,"y":537},{"x":110,"x2":117,"y":606},{"x":110,"x2":117,"y":674},{"x":110,"x2":117,"y":743},{"x":110,"x2":117,"y":812},{"x":110,"x2":117,"y":881},{"x":110,"x2":117,"y":950},{"x":110,"x2":117,"y":1018},{"x":110,"x2":117,"y":1087},
{"x":102,"x2":109,"y":1451},{"x":102,"x2":109,"y":1520},{"x":102,"x2":109,"y":1589},{"x":102,"x2":109,"y":1658},{"x":102,"x2":109,"y":1727},{"x":102,"x2":109,"y":1796},{"x":102,"x2":109,"y":1865},{"x":102,"x2":109,"y":1934},{"x":102,"x2":109,"y":2003},{"x":102,"x2":109,"y":2072},{"x":102,"x2":109,"y":2141},{"x":102,"x2":109,"y":2210},{"x":102,"x2":109,"y":2279},{"x":102,"x2":109,"y":2348},{"x":102,"x2":109,"y":2417},
{"x":108,"x2":115,"y":2813},{"x":108,"x2":115,"y":2838},{"x":108,"x2":115,"y":2890},{"x":108,"x2":115,"y":2915},{"x":108,"x2":115,"y":2966},{"x":108,"x2":115,"y":2992},{"x":108,"x2":115,"y":3043},{"x":108,"x2":115,"y":3068},{"x":108,"x2":115,"y":3120},{"x":108,"x2":115,"y":3145},{"x":108,"x2":115,"y":3197},{"x":108,"x2":115,"y":3222},{"x":108,"x2":115,"y":3273},{"x":108,"x2":115,"y":3299},{"x":108,"x2":115,"y":3350},{"x":108,"x2":115,"y":3375},{"x":108,"x2":115,"y":3427},{"x":108,"x2":115,"y":3452},{"x":108,"x2":115,"y":3504},{"x":108,"x2":115,"y":3529},{"x":108,"x2":115,"y":3581},{"x":108,"x2":115,"y":3606},{"x":108,"x2":115,"y":3657},{"x":108,"x2":115,"y":3683},{"x":108,"x2":115,"y":3734},{"x":108,"x2":115,"y":3760}],
"labels":[{"x":145,"y":165,"l":"3.11e+02"},{"x":145,"y":234,"l":"3.10e+02"},{"x":145,"y":303,"l":"3.08e+02"},{"x":145,"y":372,"l":"3.07e+02"},{"x":145,"y":440,"l":"3.06e+02"},{"x":145,"y":509,"l":"3.05e+02"},{"x":145,"y":578,"l":"3.03e+02"},{"x":145,"y":647,"l":"3.02e+02"},{"x":145,"y":715,"l":"3.01e+02"},{"x":145,"y":784,"l":"3.00e+02"},{"x":145,"y":852,"l":"2.98e+02"},{"x":145,"y":921,"l":"2.97e+02"},{"x":145,"y":990,"l":"2.96e+02"},{"x":145,"y":1060,"l":"2.94e+02"},{"x":145,"y":1128,"l":"2.93e+02"},{"x":42,"y":1197,"l":"[K]"},
{"x":137,"y":1493,"l":"3.08e+02"},{"x":137,"y":1562,"l":"3.07e+02"},{"x":137,"y":1631,"l":"3.06e+02"},{"x":137,"y":1699,"l":"3.05e+02"},{"x":137,"y":1769,"l":"3.04e+02"},{"x":137,"y":1838,"l":"3.03e+02"},{"x":137,"y":1906,"l":"3.02e+02"},{"x":137,"y":1975,"l":"3.01e+02"},{"x":137,"y":2045,"l":"3.00e+02"},{"x":137,"y":2114,"l":"2.99e+02"},{"x":137,"y":2182,"l":"2.97e+02"},{"x":137,"y":2251,"l":"2.96e+02"},{"x":137,"y":2320,"l":"2.95e+02"},{"x":137,"y":2389,"l":"2.94e+02"},{"x":137,"y":2458,"l":"2.93e+02"},{"x":34,"y":2530,"l":"[K]"},
{"x":144,"y":2794,"l":"3.02e+02"},{"x":144,"y":2872,"l":"3.02e+02"},{"x":144,"y":2948,"l":"3.01e+02"},{"x":144,"y":3024,"l":"3.00e+02"},{"x":144,"y":3101,"l":"2.99e+02"},{"x":144,"y":3178,"l":"2.99e+02"},{"x":144,"y":3254,"l":"2.98e+02"},{"x":144,"y":3332,"l":"2.97e+02"},{"x":144,"y":3408,"l":"2.97e+02"},{"x":144,"y":3485,"l":"2.96e+02"},{"x":144,"y":3562,"l":"2.95e+02"},{"x":144,"y":3638,"l":"2.95e+02"},{"x":144,"y":3715,"l":"2.94e+02"},{"x":144,"y":3792,"l":"2.93e+02"},{"x":41,"y":3861,"l":"[K]"}],
"flagsA":[{"x":1232,"y":1113},{"x":1305,"y":1469},{"x":1305,"y":2795}],
"flagsB":[{"x":1851,"y":163},{"x":1826,"y":2468},{"x":1826,"y":3798}],
"flagText":[{"x":1208,"y":1112,"l":"A"},{"x":1278,"y":1468,"l":"A"},{"x":1278,"y":2794,"l":"A"},{"x":1828,"y":163,"l":"B"},{"x":1804,"y":2468,"l":"B"},{"x":1804,"y":3798,"l":"B"}],
"parens":[{"x":969,"y":1315,"l":"("},{"x":1024,"y":1315,"l":")"},{"x":969,"y":2644,"l":"("},{"x":1024,"y":2644,"l":")"},{"x":969,"y":3974,"l":"("},{"x":1024,"y":3974,"l":")"}],
"letters":[{"x":996,"y":1315,"l":"a"},{"x":996,"y":2644,"l":"b"},{"x":996,"y":3974,"l":"c"}]
},
"encoding":{"x":{"field":"x","type":"quantitative","axis":null,"scale":{"domain":[0,1984],"nice":false,"zero":false}},"y":{"field":"y","type":"quantitative","axis":null,"scale":{"domain":[0,4026],"nice":false,"zero":false,"reverse":true}}},
"layer":[
{"data":{"name":"bgL"},"mark":{"type":"rect","fill":{"gradient":"linear","x1":0,"y1":0,"x2":0,"y2":1,"stops":[{"offset":0,"color":"#6593e0"},{"offset":1,"color":"#bdd0f3"}]}},"encoding":{"x2":{"field":"x2"},"y2":{"field":"y2"}}},
{"data":{"name":"bgR"},"mark":{"type":"rect","fill":{"gradient":"linear","x1":0,"y1":0,"x2":0,"y2":1,"stops":[{"offset":0,"color":"#8dade9"},{"offset":1,"color":"#ccdbf6"}]}},"encoding":{"x2":{"field":"x2"},"y2":{"field":"y2"}}},
{"data":{"name":"gray"},"mark":{"type":"rect","stroke":"#dedede","strokeWidth":4,"fill":{"gradient":"linear","x1":1,"y1":0,"x2":0,"y2":1,"stops":[{"offset":0,"color":"#9f9f9f"},{"offset":1,"color":"#8c8c8c"}]}},"encoding":{"x2":{"field":"x2"},"y2":{"field":"y2"}}},
{"data":{"name":"cells"},"mark":{"type":"rect"},"encoding":{"x2":{"field":"x2"},"y2":{"field":"y2"},"color":{"field":"t","type":"quantitative","legend":null,"scale":{"domain":[0,7.5,12.9,13,16,21.5,28],"range":["#0000ff","#00ffff","#00ff66","#00ff00","#00ff00","#ffff00","#ff0000"]}}}},
{"data":{"name":"sources"},"mark":{"type":"rect","stroke":"#1c4030","strokeWidth":1.5},"encoding":{"x2":{"field":"x2"},"y2":{"field":"y2"},"color":{"field":"t","type":"quantitative","legend":null}}},
{"data":{"name":"bodies"},"mark":{"type":"rect","stroke":"#dcdcdc","strokeWidth":4},"encoding":{"x2":{"field":"x2"},"y2":{"field":"y2"},"fill":{"field":"s","type":"nominal","legend":null,"scale":{"domain":["r1c1","r1c2","r1c3","r1c4","r1c5","r1c6","r1c7","r2c1","r2c2","r2c3","r2c4","r2c5","r2c6","r2c7","r3c1","r3c2","r3c3","r3c4","r3c5","r3c6","r3c7"],"range":["#7a93a8","#85a89c","#9c9c78","#557d55","#918238","#a0a0a0","#bf9370","#769b74","#aba061","#707070","#986642","#6f6f78","#768ea6","#87a8a0","#b08a68","#8e8e98","#4e6478","#567d72","#70724f","#769b74","#ada25f"]}}}},
{"data":{"name":"firsts"},"mark":{"type":"rect","filled":false,"stroke":"#a8cdf0","strokeWidth":4},"encoding":{"x2":{"field":"x2"},"y2":{"field":"y2"}}},
{"data":{"name":"redLines"},"mark":{"type":"rule","stroke":"#ff3030","strokeWidth":5},"encoding":{"x2":{"field":"x2"},"y2":{"field":"y2"}}},
{"data":{"name":"crosses"},"mark":{"type":"rule","stroke":"#5b8ade","strokeWidth":3},"encoding":{"x2":{"field":"x2"},"y2":{"field":"y2"}}},
{"data":{"name":"majors"},"mark":{"type":"rule","stroke":"#3a4a55","strokeWidth":1.5},"encoding":{"x2":{"field":"x2"}}},
{"data":{"name":"minors"},"mark":{"type":"rule","stroke":"#3a4a55","strokeWidth":1.5},"encoding":{"x2":{"field":"x2"}}},
{"data":{"name":"labels"},"mark":{"type":"text","font":"Liberation Serif","fontSize":60,"align":"left","baseline":"middle","fill":"#222222"},"encoding":{"text":{"field":"l"}}},
{"data":{"name":"flagsA"},"mark":{"type":"point","shape":"M-1,-0.65L0.46,-0.65L1,0L0.46,0.65L-1,0.65Z","filled":true,"fill":"#ff3030","stroke":"#000000","strokeWidth":4,"opacity":1,"size":14400}},
{"data":{"name":"flagsB"},"mark":{"type":"point","shape":"M-1,-0.72L0.42,-0.72L1,0L0.42,0.72L-1,0.72Z","filled":true,"fill":"#ff3030","stroke":"#000000","strokeWidth":4,"opacity":1,"size":11664}},
{"data":{"name":"flagText"},"mark":{"type":"text","font":"DejaVu Sans","fontSize":38,"align":"center","baseline":"middle","fill":"#000000"},"encoding":{"text":{"field":"l"}}},
{"data":{"name":"parens"},"mark":{"type":"text","font":"Liberation Serif","fontSize":70,"align":"center","baseline":"middle","fill":"#000000"},"encoding":{"text":{"field":"l"}}},
{"data":{"name":"letters"},"mark":{"type":"text","font":"Liberation Serif","fontWeight":"bold","fontSize":70,"align":"center","baseline":"middle","fill":"#000000"},"encoding":{"text":{"field":"l"}}}
]}
